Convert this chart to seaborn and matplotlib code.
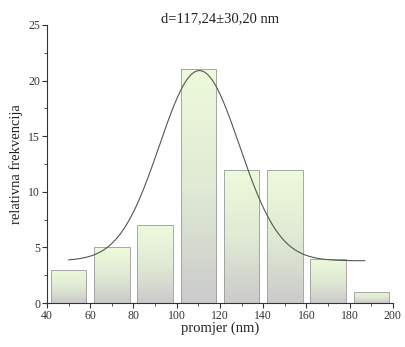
import numpy as np
import pandas as pd
import matplotlib
matplotlib.use("Agg")
import matplotlib.pyplot as plt
import seaborn as sns
from matplotlib.colors import LinearSegmentedColormap

# Data
bin_centers = [50, 70, 90, 110, 130, 150, 170, 190]
frequencies = [3, 5, 7, 21, 12, 12, 4, 1]
x_ticks = [40, 60, 80, 100, 120, 140, 160, 180, 200]
y_ticks = [0, 5, 10, 15, 20, 25]
title_text = "d=117,24\u00b130,20 nm"
x_label = "promjer (nm)"
y_label = "relativna frekvencija"

# Gaussian fit parameters
fit_y0 = 3.8
fit_A = 17.1
fit_xc = 110.5
fit_w = 18.5
fit_xmin, fit_xmax = 50, 187

sns.set_theme(style="white")
plt.rcParams["font.family"] = ["Liberation Serif", "DejaVu Serif"]

fig = plt.figure(figsize=(4.06, 3.47), dpi=100)
ax = fig.add_axes([0.1158, 0.1268, 0.852, 0.8012])

df = pd.DataFrame({"x": bin_centers, "y": frequencies})
sns.barplot(data=df, x="x", y="y", native_scale=True, width=0.82,
            color="#dddddd", edgecolor="#9a9a9a", linewidth=0.6, ax=ax,
            errorbar=None, zorder=2)

cmap = LinearSegmentedColormap.from_list("g", ["#cbcbcb", "#e0ead4", "#eefadb"])
grad = np.linspace(0, 1, 256).reshape(-1, 1)
for p in ax.patches:
    x0, y0b = p.get_x(), p.get_y()
    w, h = p.get_width(), p.get_height()
    im = ax.imshow(grad, cmap=cmap, origin="lower", aspect="auto",
                   extent=(x0, x0 + w, y0b, y0b + h), zorder=1.5)
    im.set_clip_path(p)
    p.set_facecolor("none")

xs = np.linspace(fit_xmin, fit_xmax, 300)
ys = fit_y0 + fit_A * np.exp(-(xs - fit_xc) ** 2 / (2 * fit_w ** 2))
sns.lineplot(x=xs, y=ys, color="#555555", linewidth=0.8, ax=ax, zorder=3)

ax.set_xlim(40, 200)
ax.set_ylim(0, 25)
ax.set_xticks(x_ticks)
ax.set_yticks(y_ticks)
ax.set_xticks(np.arange(50, 200, 20), minor=True)
ax.set_yticks(np.arange(2.5, 25, 5), minor=True)
ax.tick_params(axis="both", which="major", direction="out", length=3.5,
               width=0.8, labelsize=8.5, colors="#333333", pad=1.5,
               bottom=True, left=True)
ax.tick_params(axis="both", which="minor", direction="out", length=2,
               width=0.6, bottom=True, left=True, colors="#333333")
for s in ["top", "right"]:
    ax.spines[s].set_visible(False)
for s in ["left", "bottom"]:
    ax.spines[s].set_color("#333333")
    ax.spines[s].set_linewidth(0.8)

ax.set_xlabel(x_label, fontsize=10.5, color="#222222", labelpad=0)
ax.set_ylabel(y_label, fontsize=10.5, color="#222222", labelpad=4)
ax.set_title(title_text, fontsize=10.5, color="#222222", pad=2)

fig.savefig("out.png", dpi=100)
